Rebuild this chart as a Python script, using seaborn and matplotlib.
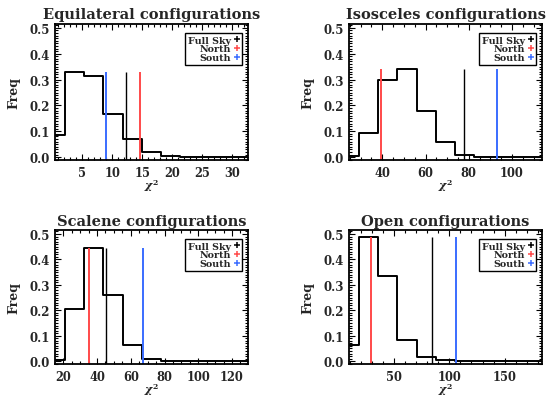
import numpy as np
import matplotlib
matplotlib.use('Agg')
import matplotlib.pyplot as plt
from matplotlib.lines import Line2D
from matplotlib.ticker import MultipleLocator, AutoMinorLocator
import seaborn as sns

# chi^2 bin centres (IDL psym=10 style: first/last centre sit on the axis edges)
equi_chi2 = [0.5, 3.71, 6.92, 10.13, 13.34, 16.55, 19.76, 22.97, 26.18, 29.39, 32.6]
equi_freq = [0.085, 0.33, 0.312, 0.165, 0.07, 0.02, 0.005, 0.002, 0.0, 0.0, 0.0]
equi_obs = {'Full Sky': 12.3, 'North': 14.6, 'South': 8.9}

iso_chi2 = [24.6, 33.5, 42.5, 51.4, 60.3, 69.3, 78.2, 87.1, 96.0, 105.0, 113.9]
iso_freq = [0.003, 0.095, 0.30, 0.34, 0.18, 0.06, 0.008, 0.002, 0.0, 0.0, 0.0]
iso_obs = {'Full Sky': 77.8, 'North': 39.3, 'South': 93.1}

sca_chi2 = [15.1, 26.5, 38.0, 49.4, 60.9, 72.3, 83.7, 95.2, 106.6, 118.1, 129.5]
sca_freq = [0.003, 0.205, 0.445, 0.26, 0.065, 0.01, 0.002, 0.0, 0.0, 0.0, 0.0]
sca_obs = {'Full Sky': 45.4, 'North': 35.3, 'South': 67.4}

open_chi2 = [9.3, 26.8, 44.2, 61.7, 79.1, 96.6, 114.0, 131.5, 148.9, 166.4, 183.8]
open_freq = [0.065, 0.49, 0.335, 0.085, 0.015, 0.003, 0.001, 0.0, 0.0, 0.0, 0.0]
open_obs = {'Full Sky': 84.5, 'North': 29.6, 'South': 106.2}

titles = ['Equilateral configurations', 'Isosceles configurations',
          'Scalene configurations', 'Open configurations']
panels = [(equi_chi2, equi_freq, equi_obs, 5, 5),
          (iso_chi2, iso_freq, iso_obs, 20, 4),
          (sca_chi2, sca_freq, sca_obs, 20, 4),
          (open_chi2, open_freq, open_obs, 50, 5)]

obs_colors = {'Full Sky': 'black', 'North': '#ff4a4a', 'South': '#3a6cff'}

sns.set_theme(style='ticks')
plt.rcParams['font.family'] = ['DejaVu Serif']
plt.rcParams['font.weight'] = 'bold'
plt.rcParams['mathtext.fontset'] = 'dejavuserif'

fig = plt.figure(figsize=(5.54, 4.02), dpi=100)
fig.patch.set_facecolor('white')

# axes rectangles in figure fractions
boxes = [[0.0993, 0.5995, 0.3484, 0.3383],
         [0.6300, 0.5995, 0.3484, 0.3383],
         [0.0993, 0.0920, 0.3484, 0.3330],
         [0.6300, 0.0920, 0.3484, 0.3330]]

for box, title, (chi2, freq, obs, major, nminor) in zip(boxes, titles, panels):
    ax = fig.add_axes(box)
    ax.set_facecolor('white')
    sns.lineplot(x=chi2, y=freq, drawstyle='steps-mid', color='black',
                 linewidth=1.4, ax=ax, sort=False)
    top = max(freq)
    for name in ['Full Sky', 'North', 'South']:
        lw = 1.0 if name == 'Full Sky' else 1.4
        ax.vlines(obs[name], -0.011, top, color=obs_colors[name], linewidth=lw)
    ax.set_xlim(chi2[0], chi2[-1])
    ax.set_ylim(-0.011, 0.515)
    ax.xaxis.set_major_locator(MultipleLocator(major))
    ax.xaxis.set_minor_locator(AutoMinorLocator(nminor))
    ax.yaxis.set_major_locator(MultipleLocator(0.1))
    ax.yaxis.set_minor_locator(AutoMinorLocator(10))
    ax.tick_params(which='both', direction='in', top=True, right=True,
                   color='black', width=0.8)
    ax.tick_params(which='major', length=4.5)
    ax.tick_params(which='minor', length=2.2)
    ax.tick_params(axis='x', which='major', pad=4, labelsize=8.3)
    ax.tick_params(axis='y', which='major', pad=3.5, labelsize=8.5)
    ax.set_yticks([0.0, 0.1, 0.2, 0.3, 0.4, 0.5])
    ax.set_yticklabels(['0.0', '0.1', '0.2', '0.3', '0.4', '0.5'])
    for sp in ax.spines.values():
        sp.set_color('black')
        sp.set_linewidth(1.3)
    ax.set_title(title, fontsize=10.5, fontweight='bold', pad=4)
    ax.set_ylabel('Freq', fontsize=9, fontweight='bold', labelpad=7)
    ax.set_xlabel(r'$\chi^2$', fontsize=8, labelpad=-1)

    handles = [Line2D([], [], marker='+', linestyle='none', color=obs_colors[n],
                      markersize=5, markeredgewidth=1.1) for n in ['Full Sky', 'North', 'South']]
    leg = ax.legend(handles, ['Full Sky', 'North', 'South'], loc='upper right',
                    bbox_to_anchor=(0.97, 0.935), borderaxespad=0, markerfirst=False,
                    fancybox=False, framealpha=1, edgecolor='black',
                    prop={'family': 'DejaVu Serif', 'weight': 'bold', 'size': 6.8},
                    labelspacing=-0.02, handlelength=0.6, handletextpad=0.3,
                    borderpad=0.3)
    leg.get_frame().set_linewidth(1.0)

fig.savefig('out.png', dpi=100, facecolor='white')
